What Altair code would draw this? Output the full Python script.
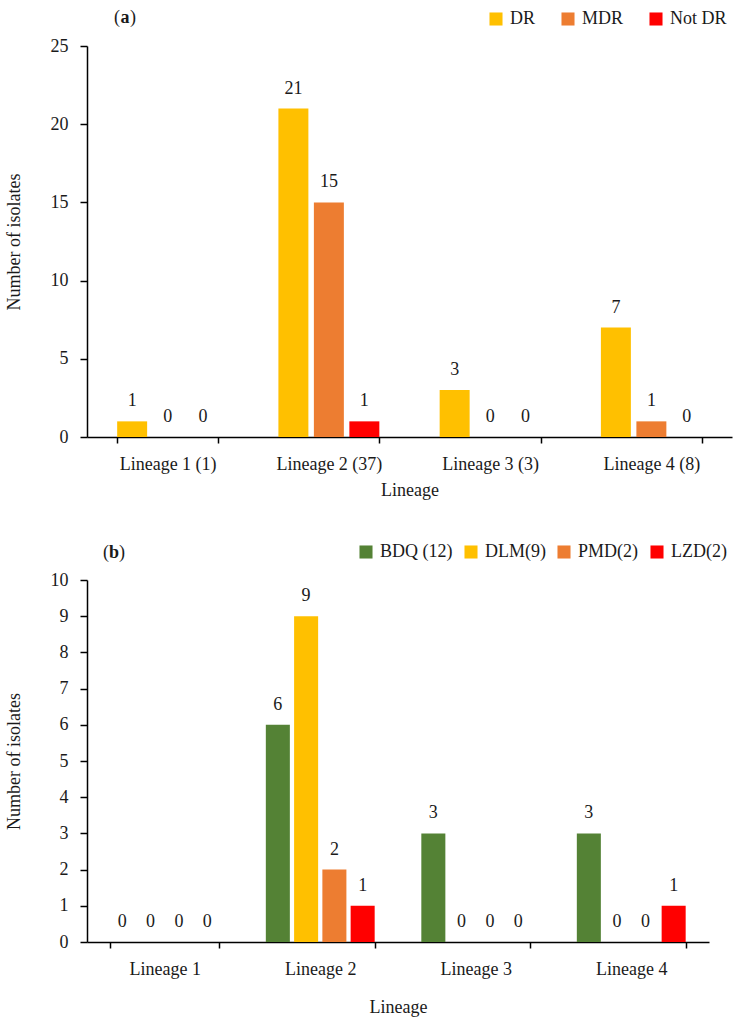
import altair as alt
import pandas as pd

# ---- data ----
lineages_a = ["Lineage 1 (1)", "Lineage 2 (37)", "Lineage 3 (3)", "Lineage 4 (8)"]
groups_a = ["DR", "MDR", "Not DR"]
dr = [1, 21, 3, 7]
mdr = [0, 15, 0, 1]
not_dr = [0, 1, 0, 0]
colors_a = ["#FFC000", "#ED7D31", "#FF0000"]

lineages_b = ["Lineage 1", "Lineage 2", "Lineage 3", "Lineage 4"]
groups_b = ["BDQ (12)", "DLM(9)", "PMD(2)", "LZD(2)"]
bdq = [0, 6, 3, 3]
dlm = [0, 9, 0, 0]
pmd = [0, 2, 0, 0]
lzd = [0, 1, 0, 1]
colors_b = ["#548235", "#FFC000", "#ED7D31", "#FF0000"]

FONT = "Liberation Serif"
FS = 18
TXT = "#1a1a1a"

rows_a = []
for g, vals in zip(groups_a, [dr, mdr, not_dr]):
    for l, v in zip(lineages_a, vals):
        rows_a.append({"lineage": l, "group": g, "count": v})
df_a = pd.DataFrame(rows_a)

rows_b = []
for g, vals in zip(groups_b, [bdq, dlm, pmd, lzd]):
    for l, v in zip(lineages_b, vals):
        rows_b.append({"lineage": l, "group": g, "count": v})
df_b = pd.DataFrame(rows_b)


def panel(df, lineages, groups, colors, ymax, ystep, w, h, pad_in, off_pad,
          legend_x, legend_y, col_pad, letter, letter_x, letter_y, xtitle_pad):
    x_axis = alt.Axis(title="Lineage", tickBand="extent", labelAngle=0,
                      labelFont=FONT, labelFontSize=FS, labelColor=TXT,
                      titleFont=FONT, titleFontSize=FS, titleFontWeight="normal",
                      titleColor=TXT, titlePadding=xtitle_pad, labelPadding=12,
                      domainColor="black", domainWidth=1.5, tickColor="black",
                      tickWidth=1.5, tickSize=6, grid=False)
    y_axis = alt.Axis(title="Number of isolates", values=list(range(0, ymax + 1, ystep)),
                      labelFont=FONT, labelFontSize=FS, labelColor=TXT,
                      titleFont=FONT, titleFontSize=FS, titleFontWeight="normal",
                      titleColor=TXT, titlePadding=27, labelPadding=12,
                      domainColor="black", domainWidth=1.5, tickColor="black",
                      tickWidth=1.5, tickSize=7, grid=False)
    base = alt.Chart(df).encode(
        x=alt.X("lineage:N", sort=lineages, axis=x_axis,
                scale=alt.Scale(paddingInner=pad_in, paddingOuter=pad_in / 2)),
        xOffset=alt.XOffset("group:N", sort=groups,
                            scale=alt.Scale(paddingInner=off_pad, paddingOuter=0)),
        y=alt.Y("count:Q", axis=y_axis, scale=alt.Scale(domain=[0, ymax], nice=False)),
    )
    bars = base.mark_bar().encode(
        color=alt.Color("group:N", sort=groups,
                        scale=alt.Scale(domain=groups, range=colors),
                        legend=alt.Legend(title=None, orient="none", direction="horizontal",
                                          legendX=legend_x, legendY=legend_y,
                                          symbolType="square", symbolSize=170,
                                          symbolStrokeWidth=0, labelFont=FONT,
                                          labelFontSize=FS, labelColor=TXT,
                                          labelOffset=5, columnPadding=col_pad))
    )
    labels = base.mark_text(font=FONT, fontSize=FS, color=TXT,
                            baseline="middle", dy=-20).encode(text="count:Q")
    one = pd.DataFrame({"t": [0]})
    p1 = alt.Chart(one).mark_text(font=FONT, fontSize=FS, color=TXT, align="right",
                                  baseline="middle").encode(
        x=alt.value(letter_x - 4), y=alt.value(letter_y), text=alt.value("("))
    p2 = alt.Chart(one).mark_text(font=FONT, fontSize=FS, color=TXT, align="center",
                                  baseline="middle", fontWeight="bold").encode(
        x=alt.value(letter_x + 1), y=alt.value(letter_y), text=alt.value(letter))
    p3 = alt.Chart(one).mark_text(font=FONT, fontSize=FS, color=TXT, align="left",
                                  baseline="middle").encode(
        x=alt.value(letter_x + 6), y=alt.value(letter_y), text=alt.value(")"))
    return alt.layer(bars, labels, p1, p2, p3).properties(width=w, height=h)


chart_a = panel(df_a, lineages_a, groups_a, colors_a, 25, 5, 645, 391, 0.374, 0.155,
                400, -36, 23, "a", 37, -28, 8)
chart_b = panel(df_b, lineages_b, groups_b, colors_b, 10, 1, 622, 362, 0.30, 0.15,
                270, -37, 9, "b", 26, -27, 20)

chart = alt.vconcat(chart_a, chart_b, spacing=44).resolve_scale(
    color="independent", x="independent", xOffset="independent", y="independent"
).resolve_legend(color="independent").properties(
    padding={"left": 5, "top": 9, "right": 2, "bottom": 2}, background="white"
).configure_view(stroke=None)

chart.save("out.html", embed_options={"renderer": "svg", "actions": False})
